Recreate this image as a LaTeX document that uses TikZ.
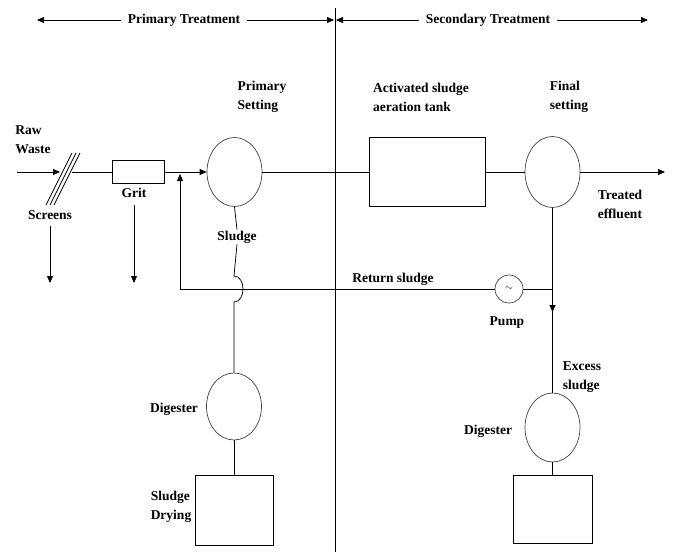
\documentclass[tikz,border=0pt]{standalone}
\usepackage{fontspec}
\setmainfont{Liberation Serif}
\usetikzlibrary{arrows.meta,shapes.geometric}
\begin{document}
\begin{tikzpicture}[x=1pt,y=-1pt,
  lbl/.style={font=\fontsize{13.5}{19}\selectfont\bfseries, inner sep=1pt, align=left},
  tip/.style={-{Triangle[length=7pt,width=6pt]}},
  vessel/.style={ellipse, draw=black!75, line width=0.7pt, minimum width=55pt, minimum height=69pt, inner sep=0pt},
  unit/.style={rectangle, draw, line width=0.7pt, inner sep=0pt},
  line/.style={line width=0.75pt}]
\useasboundingbox (0,0) rectangle (673,552);
% divider and headings
\draw[line] (335,8) -- (335,552);
\node[lbl] (pt) at (184,20) {Primary Treatment};
\node[lbl] (st) at (488,20) {Secondary Treatment};
\coordinate (ptl) at (37,20); \coordinate (ptr) at (334,20);
\coordinate (stl) at (336,20); \coordinate (str) at (648,20);
\draw[line,tip] ([xshift=-6pt]pt.west) -- (ptl);
\draw[line,tip] ([xshift=6pt]pt.east) -- (ptr);
\draw[line,tip] ([xshift=-6pt]st.west) -- (stl);
\draw[line,tip] ([xshift=6pt]st.east) -- (str);
% units
\node[unit, minimum width=52pt, minimum height=23pt] (grit) at (138,172) {};
\node[vessel] (ps) at (234.5,172) {};
\node[unit, minimum width=116pt, minimum height=69pt] (ast) at (427.5,172) {};
\node[vessel, minimum height=71pt] (fs) at (552.5,172) {};
\node[vessel, minimum height=67pt] (dig1) at (234,406.5) {};
\node[unit, minimum width=78pt, minimum height=70pt] (dry1) at (234,510) {};
\node[vessel] (dig2) at (552.5,427.5) {};
\node[unit, minimum width=79pt, minimum height=68pt] (dry2) at (552.5,509) {};
\node[circle, draw=black!75, line width=0.7pt, minimum size=28pt, inner sep=0pt, font=\fontsize{10}{10}\selectfont] (pump) at (509,289) {$\sim$};
% labels
\node[lbl] at (33,140) {Raw\\Waste};
\node[lbl] at (50,215) {Screens};
\node[lbl] at (134,193) {Grit};
\node[lbl] (sludge) at (237,237) {Sludge};
\node[lbl] at (262,97) {Primary\\Setting};
\node[lbl] at (421,97) {Activated sludge\\aeration tank};
\node[lbl] at (569,97) {Final\\setting};
\node[lbl] at (620,204) {Treated\\effluent};
\node[lbl] at (393,279) {Return sludge};
\node[lbl] at (507,323) {Pump};
\node[lbl] at (582,377) {Excess\\sludge};
\node[lbl] at (174,409) {Digester};
\node[lbl] at (488,431) {Digester};
\node[lbl] at (171,507) {Sludge\\Drying};
% inflow and screens
\coordinate (in) at (17,172);
\coordinate (scr) at (60,172);
\draw[line,tip] (in) -- (scr);
\foreach \d in {-4,0,4} \draw[line] (50+\d,205) -- (76+\d,153);
\draw[line] (72,172) -- (grit.west);
\draw[line,tip] (grit.east) -- (ps.west);
\draw[line,tip] (50,226) -- (50,283);
\draw[line,tip] (134,205) -- (134,283);
% main line
\draw[line] (ps.east) -- (ast.west);
\draw[line] (ast.east) -- (fs.west);
\draw[line,tip] (fs.east) -- (665,172);
% primary sludge with hop
\draw[line] (ps.south) -- (sludge.north);
\draw[line] (sludge.south) -- (234,276) .. controls (246,276) and (246,302) .. (234,302) -- (dig1.north);
\draw[line] (dig1.south) -- (dry1.north);
% return sludge
\coordinate (rc) at (180,289);
\draw[line,tip] (pump.west) -- (rc) -- (180,174);
\coordinate (jn) at (552.5,289);
\draw[line] (pump.east) -- (jn);
\draw[line,tip] (fs.south) -- (552.5,312);
\draw[line] (552.5,306) -- (dig2.north);
\draw[line] (dig2.south) -- (dry2.north);
\end{tikzpicture}
\end{document}
